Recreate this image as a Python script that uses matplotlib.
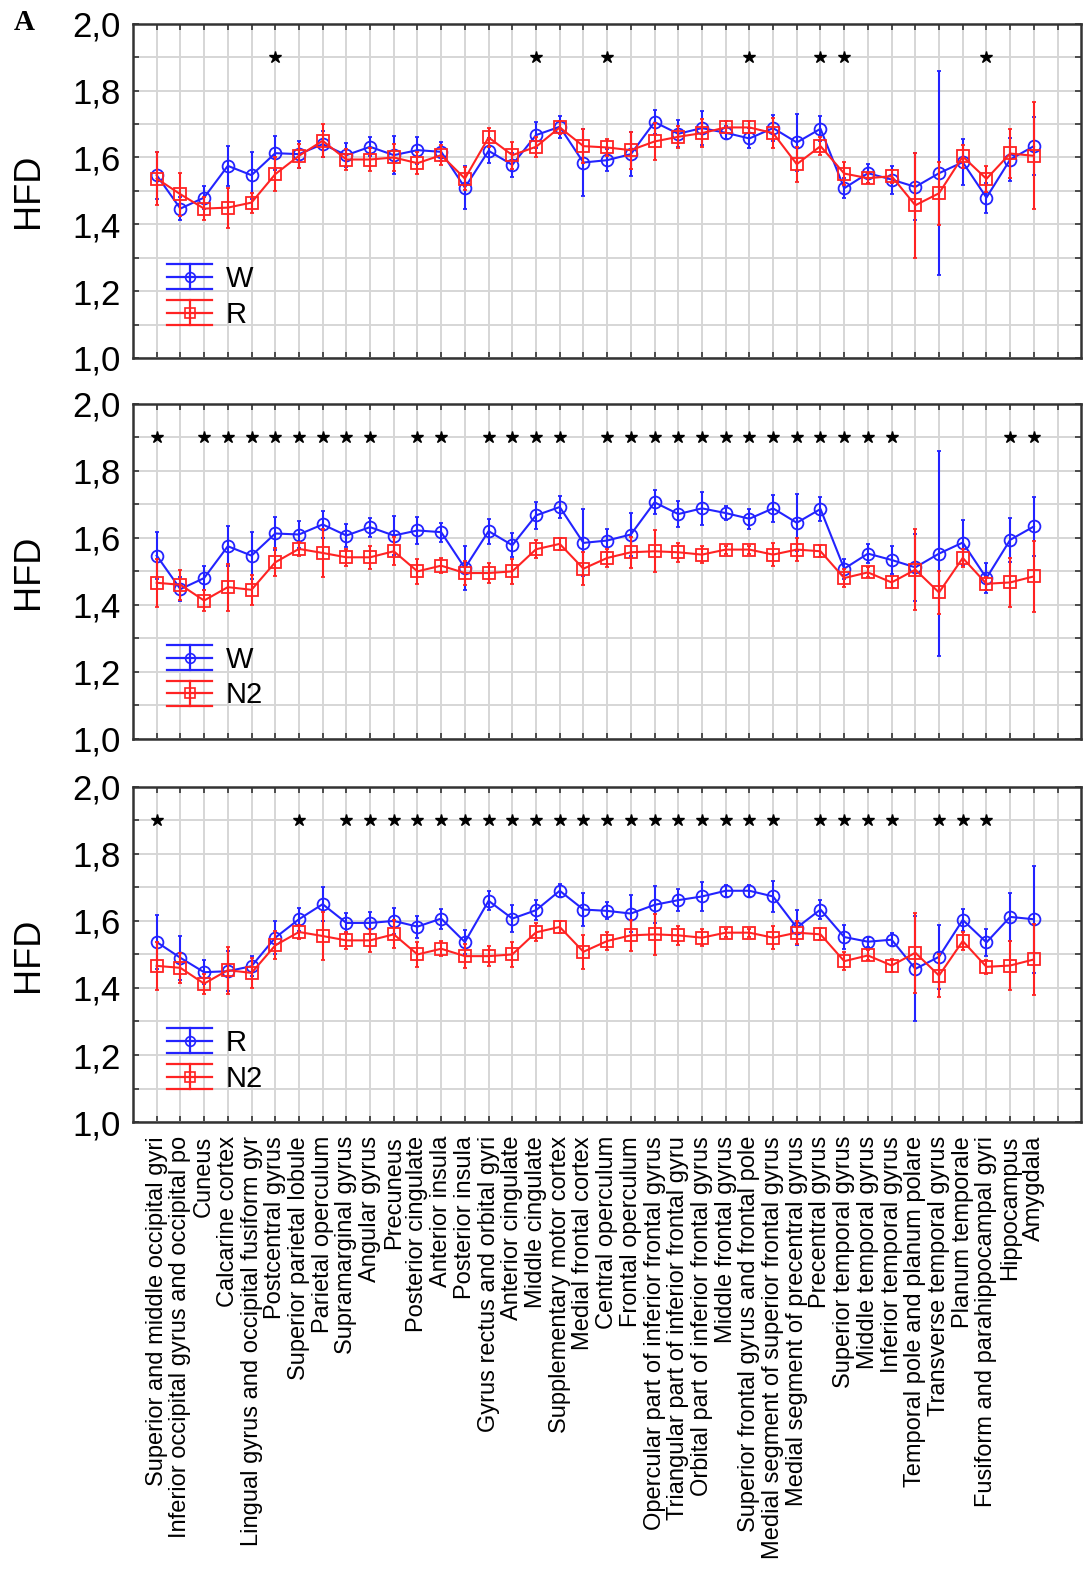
import numpy as np
import matplotlib
matplotlib.use('Agg')
import matplotlib.pyplot as plt
from matplotlib.ticker import FuncFormatter, MultipleLocator
from matplotlib.legend_handler import HandlerBase
from matplotlib.lines import Line2D

plt.rcParams['font.family'] = ['Liberation Sans', 'DejaVu Sans']

regions = [
    'Superior and middle occipital gyri', 'Inferior occipital gyrus and occipital po',
    'Cuneus', 'Calcarine cortex', 'Lingual gyrus and occipital fusiform gyr',
    'Postcentral gyrus', 'Superior parietal lobule', 'Parietal operculum',
    'Supramarginal gyrus', 'Angular gyrus', 'Precuneus', 'Posterior cingulate',
    'Anterior insula', 'Posterior insula', 'Gyrus rectus and orbital gyri',
    'Anterior cingulate', 'Middle cingulate', 'Supplementary motor cortex',
    'Medial frontal cortex', 'Central operculum', 'Frontal operculum',
    'Opercular part of inferior frontal gyrus', 'Triangular part of inferior frontal gyru',
    'Orbital part of inferior frontal gyrus', 'Middle frontal gyrus',
    'Superior frontal gyrus and frontal pole', 'Medial segment of superior frontal gyrus',
    'Medial segment of precentral gyrus', 'Precentral gyrus', 'Superior temporal gyrus',
    'Middle temporal gyrus', 'Inferior temporal gyrus', 'Temporal pole and planum polare',
    'Transverse temporal gyrus', 'Planum temporale', 'Fusiform and parahippocampal gyri',
    'Hippocampus', 'Amygdala']

# mean HFD and error (half-width of bar) per region
W_mean = [1.547, 1.447, 1.480, 1.575, 1.547, 1.613, 1.610, 1.640, 1.607, 1.632,
          1.607, 1.622, 1.617, 1.510, 1.620, 1.578, 1.667, 1.692, 1.585, 1.592,
          1.610, 1.706, 1.671, 1.688, 1.674, 1.657, 1.688, 1.645, 1.686, 1.508,
          1.553, 1.534, 1.512, 1.553, 1.586, 1.480, 1.594, 1.634]
W_err = [0.07, 0.035, 0.035, 0.06, 0.07, 0.05, 0.04, 0.04, 0.035, 0.028,
         0.057, 0.04, 0.028, 0.065, 0.037, 0.035, 0.04, 0.033, 0.10, 0.033,
         0.065, 0.036, 0.04, 0.05, 0.02, 0.03, 0.04, 0.085, 0.037, 0.03,
         0.028, 0.042, 0.10, 0.305, 0.068, 0.045, 0.065, 0.087]

R_mean = [1.537, 1.490, 1.447, 1.450, 1.465, 1.550, 1.605, 1.650, 1.594, 1.594,
          1.600, 1.583, 1.607, 1.537, 1.660, 1.607, 1.632, 1.690, 1.634, 1.630,
          1.622, 1.648, 1.662, 1.673, 1.690, 1.690, 1.673, 1.580, 1.634, 1.552,
          1.538, 1.544, 1.457, 1.493, 1.603, 1.536, 1.612, 1.605]
R_err = [0.08, 0.065, 0.035, 0.06, 0.03, 0.05, 0.035, 0.05, 0.03, 0.033,
         0.04, 0.033, 0.03, 0.035, 0.028, 0.04, 0.03, 0.02, 0.05, 0.025,
         0.055, 0.055, 0.033, 0.042, 0.018, 0.018, 0.045, 0.052, 0.028, 0.035,
         0.015, 0.02, 0.157, 0.095, 0.033, 0.04, 0.072, 0.16]

N2_mean = [1.466, 1.460, 1.413, 1.453, 1.445, 1.527, 1.567, 1.555, 1.542, 1.542,
           1.560, 1.500, 1.517, 1.495, 1.495, 1.500, 1.566, 1.582, 1.508, 1.540,
           1.557, 1.560, 1.557, 1.550, 1.565, 1.565, 1.550, 1.565, 1.560, 1.480,
           1.497, 1.467, 1.505, 1.437, 1.540, 1.463, 1.467, 1.485]
N2_err = [0.072, 0.045, 0.03, 0.07, 0.045, 0.042, 0.02, 0.072, 0.025, 0.035,
          0.042, 0.037, 0.022, 0.035, 0.03, 0.037, 0.027, 0.018, 0.05, 0.028,
          0.047, 0.062, 0.028, 0.025, 0.012, 0.012, 0.035, 0.035, 0.018, 0.027,
          0.015, 0.018, 0.12, 0.065, 0.028, 0.02, 0.072, 0.105]

# regions (1-based) marked significant in each comparison
stars_W_R = [6, 17, 20, 26, 29, 30, 36]
stars_W_N2 = [1, 3, 4, 5, 6, 7, 8, 9, 10, 12, 13, 15, 16, 17, 18, 20, 21, 22, 23,
              24, 25, 26, 27, 28, 29, 30, 31, 32, 37, 38]
stars_R_N2 = [1, 7, 9, 10, 11, 12, 13, 14, 15, 16, 17, 18, 19, 20, 21, 22, 23, 24,
              25, 26, 27, 29, 30, 31, 32, 34, 35, 36]

BLUE = '#2323ff'
RED = '#ff2323'


class StatHandler(HandlerBase):
    # statistica style legend key: three horizontal lines + whisker + marker
    def create_artists(self, legend, orig_handle, xdescent, ydescent,
                       width, height, fontsize, trans):
        c = orig_handle.get_color()
        x0, x1 = -xdescent, -xdescent + width
        y0, y1 = -ydescent, -ydescent + height
        xm, ym = (x0 + x1) / 2, (y0 + y1) / 2
        arts = [Line2D([x0, x1], [y, y], color=c, lw=1.6) for y in (y0, ym, y1)]
        arts.append(Line2D([xm, xm], [y0, y1], color=c, lw=1.6))
        arts.append(Line2D([xm], [ym], marker=orig_handle.get_marker(), ms=7,
                           mfc='none', mec=c, mew=1.2, ls='none'))
        for a in arts:
            a.set_transform(trans)
        return arts


x = np.arange(1, len(regions) + 1)

fig = plt.figure(figsize=(10.9, 15.81), dpi=100)
boxes = [[0.122, 0.7736, 0.870, 0.2113],
         [0.122, 0.5326, 0.870, 0.2120],
         [0.122, 0.2903, 0.870, 0.2120]]
panels = [(W_mean, W_err, 'W', R_mean, R_err, 'R', stars_W_R),
          (W_mean, W_err, 'W', N2_mean, N2_err, 'N2', stars_W_N2),
          (R_mean, R_err, 'R', N2_mean, N2_err, 'N2', stars_R_N2)]

comma = FuncFormatter(lambda v, p: f'{v:.1f}'.replace('.', ','))

for i, (box, (m1, e1, l1, m2, e2, l2, st)) in enumerate(zip(boxes, panels)):
    ax = fig.add_axes(box)
    ax.errorbar(x, m1, yerr=e1, color=BLUE, lw=1.5, elinewidth=1.5, capsize=1.5,
                marker='o', ms=8.5, mfc='none', mec=BLUE, mew=1.3, zorder=3)
    ax.errorbar(x, m2, yerr=e2, color=RED, lw=1.5, elinewidth=1.5, capsize=1.5,
                marker='s', ms=8.5, mfc='none', mec=RED, mew=1.3, zorder=4)
    ax.plot(st, [1.9] * len(st), ls='none', marker='*', ms=9, color='black', zorder=5)

    ax.set_xlim(0, 40)
    ax.set_ylim(1.0, 2.0)
    ax.set_xticks(np.arange(1, 40))
    if i == 2:
        ax.set_xticklabels(regions + [''], rotation=90, fontsize=17)
    else:
        ax.set_xticklabels([])
    ax.yaxis.set_major_locator(MultipleLocator(0.2))
    ax.yaxis.set_minor_locator(MultipleLocator(0.1))
    ax.yaxis.set_major_formatter(comma)
    ax.tick_params(axis='y', labelsize=25, pad=9)
    ax.tick_params(which='both', direction='in', top=True, right=True,
                   length=4, width=1.2, color='#333333')
    ax.tick_params(axis='x', pad=10)
    ax.grid(which='both', color='#d6d6d6', lw=1.4, zorder=0)
    ax.set_axisbelow(True)
    for s in ax.spines.values():
        s.set_color('#333333')
        s.set_linewidth(1.8)

    ax.set_ylabel('HFD', fontsize=26)
    ax.yaxis.set_label_coords(-0.092, 0.5)

    handles = [Line2D([], [], color=BLUE, marker='o'), Line2D([], [], color=RED, marker='s')]
    ax.legend(handles, [l1, l2], handler_map={Line2D: StatHandler()},
              loc='lower left', bbox_to_anchor=(0.036, 0.088), frameon=False,
              fontsize=21, handlelength=1.55, handleheight=0.95, handletextpad=0.45,
              labelspacing=0.24, borderpad=0, borderaxespad=0)

fig.text(0.022, 0.986, 'A', fontsize=21, fontweight='bold',
         family=['Liberation Serif', 'DejaVu Serif'], ha='center', va='center')

fig.savefig('out.png', dpi=100)
